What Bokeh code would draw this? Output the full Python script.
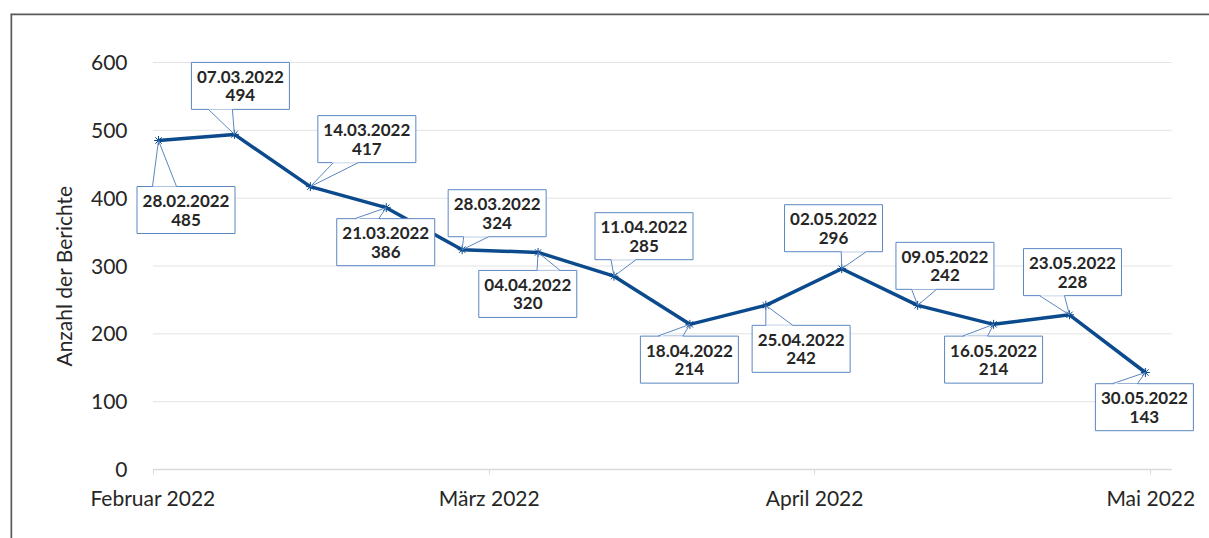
import pandas as pd
from bokeh.plotting import figure
from bokeh.models import Range1d, DatetimeAxis, LinearAxis, FixedTicker
from bokeh.core.properties import value
from bokeh.embed import file_html
from bokeh.resources import INLINE

# ---------------- data ----------------
dates = ["28.02.2022", "07.03.2022", "14.03.2022", "21.03.2022", "28.03.2022",
         "04.04.2022", "11.04.2022", "18.04.2022", "25.04.2022", "02.05.2022",
         "09.05.2022", "16.05.2022", "23.05.2022", "30.05.2022"]
counts = [485, 494, 417, 386, 324, 320, 285, 214, 242, 296, 242, 214, 228, 143]
y_ticks = [0, 100, 200, 300, 400, 500, 600]
x_tick_dates = ["2022-02-28", "2022-03-31", "2022-04-30", "2022-05-31"]
x_tick_labels = ["Februar 2022", "März 2022", "April 2022", "Mai 2022"]
y_title = "Anzahl der Berichte"

# ---------------- layout (screen px offsets of callouts from their point) ----------------
box_dx = [27.5, 6, 56.5, -0.5, 35, -10.3, 30, -0.5, 35.3, -8.2, 27.3, 0, 3, -1]
box_dy = [69.5, -48.5, -47.5, 34.5, -36.5, 41.5, -40, 35.3, 43.5, -40.5, -39.5, 35.3, -42.7, 34.7]
wedge_a = [-6, -26, 23, -31.5, 1.5, -1, -3, -32, 0, -0.5, -6, -31, -30, -33]
wedge_b = [18, -2, 48, -7.5, 26.5, 22, 22, -7, 27, 24.5, 19, -6, -5, -8]
BOX_W, BOX_H = 98, 47

BLUE = "#0b4a8c"
BOX_LINE = "#5b87c1"
TEXT = "#262626"
FONT = "Lato"

DAY = 86400000.0
KX = 10.845 / DAY          # px per ms
KY = 407.0 / 600.0         # px per unit

xs = [float(t.value // 10**6) for t in pd.to_datetime(dates, format="%d.%m.%Y")]
t0 = xs[0]
tick_ms = [float(t.value // 10**6) - DAY / 2 for t in pd.to_datetime(x_tick_dates)]

FL, FT, FW, FH = 10, 13, 1199, 525   # frame left/top/width/height in px
x_start, x_end = t0 - (158 - FL) / KX, t0 + (FL + FW - 158) / KX
y_start, y_end = -(FT + FH - 469) / KY, (469 - FT) / KY
ax_lo, ax_hi = t0 - DAY / 2, t0 + 1013 / KX

p = figure(frame_width=FW, frame_height=FH, output_backend="svg", toolbar_location=None,
           x_range=Range1d(x_start, x_end), y_range=Range1d(y_start, y_end),
           x_axis_location=None, y_axis_location=None, title=None,
           min_border_left=FL, min_border_top=FT, min_border_right=0, min_border_bottom=0)
p.grid.visible = False
p.outline_line_color = None
p.background_fill_color = "white"
p.border_fill_color = "white"

# frame border (top and left)
p.segment(x0=[x_start, x_start], y0=[y_end, y_end], x1=[x_end, x_start], y1=[y_end, y_start],
          line_color="#595959", line_width=3.4)

# gridlines
p.segment(x0=[ax_lo] * len(y_ticks), x1=[ax_hi] * len(y_ticks), y0=y_ticks, y1=y_ticks,
          line_color="#e3e3e3", line_width=1)

# axes
xaxis = DatetimeAxis(fixed_location=0, ticker=FixedTicker(ticks=tick_ms),
                     major_label_overrides={t: l for t, l in zip(tick_ms, x_tick_labels)},
                     bounds=(ax_lo, ax_hi))
xaxis.axis_line_color = "#d9d9d9"
xaxis.axis_line_width = 1.5
xaxis.major_tick_line_color = "#d9d9d9"
xaxis.major_tick_out = 5
xaxis.major_tick_in = 0
xaxis.minor_tick_line_color = None
xaxis.major_label_standoff = 10
xaxis.major_label_text_font = FONT
xaxis.major_label_text_font_size = "21px"
xaxis.major_label_text_color = TEXT
p.add_layout(xaxis, "below")

yaxis = LinearAxis(fixed_location=t0 - 22 / KX, ticker=FixedTicker(ticks=y_ticks),
                   axis_label=y_title)
yaxis.axis_line_color = None
yaxis.major_tick_line_color = None
yaxis.minor_tick_line_color = None
yaxis.major_label_standoff = 3
yaxis.major_label_text_font = FONT
yaxis.major_label_text_font_size = "21px"
yaxis.major_label_text_color = TEXT
yaxis.axis_label_text_font = FONT
yaxis.axis_label_text_font_size = "21px"
yaxis.axis_label_text_font_style = "normal"
yaxis.axis_label_text_color = TEXT
yaxis.axis_label_standoff = 12
p.add_layout(yaxis, "left")

# series
p.line(xs, counts, line_color=BLUE, line_width=3.5, line_join="round")
p.scatter(xs, counts, marker="asterisk", size=9, line_color=BLUE, line_width=1)

# callouts
cx = [x + dx / KX for x, dx in zip(xs, box_dx)]
cy = [y - dy / KY for y, dy in zip(counts, box_dy)]
p.rect(cx, cy, width=BOX_W, height=BOX_H, width_units="screen", height_units="screen",
       fill_color="white", line_color=BOX_LINE, line_width=1)

pxs, pys, lxs, lys = [], [], [], []
for x, y, dy, a, b in zip(xs, counts, box_dy, wedge_a, wedge_b):
    edge = dy - BOX_H / 2 if dy > 0 else dy + BOX_H / 2
    inner = edge + (1.5 if dy > 0 else -1.5)
    ya = y - edge / KY
    yi = y - inner / KY
    xa, xb = x + a / KX, x + b / KX
    pxs.append([xa, xb, xb, xa, x])
    pys.append([yi, yi, ya, ya, y])
    lxs += [[xa, x], [xb, x]]
    lys += [[ya, y], [ya, y]]
p.patches(pxs, pys, fill_color="white", line_color=None)
p.multi_line(lxs, lys, line_color=BOX_LINE, line_width=1)

p.text(cx, [c + 9 / KY for c in cy], text=dates, text_align="center",
       text_baseline="middle", text_font=value(FONT), text_font_style="bold",
       text_font_size="17px", text_color=TEXT)
p.text(cx, [c - 9.5 / KY for c in cy], text=[str(v) for v in counts],
       text_align="center", text_baseline="middle", text_font=value(FONT),
       text_font_style="bold", text_font_size="17px", text_color=TEXT)

open("out.html", "w").write(file_html(p, INLINE))
